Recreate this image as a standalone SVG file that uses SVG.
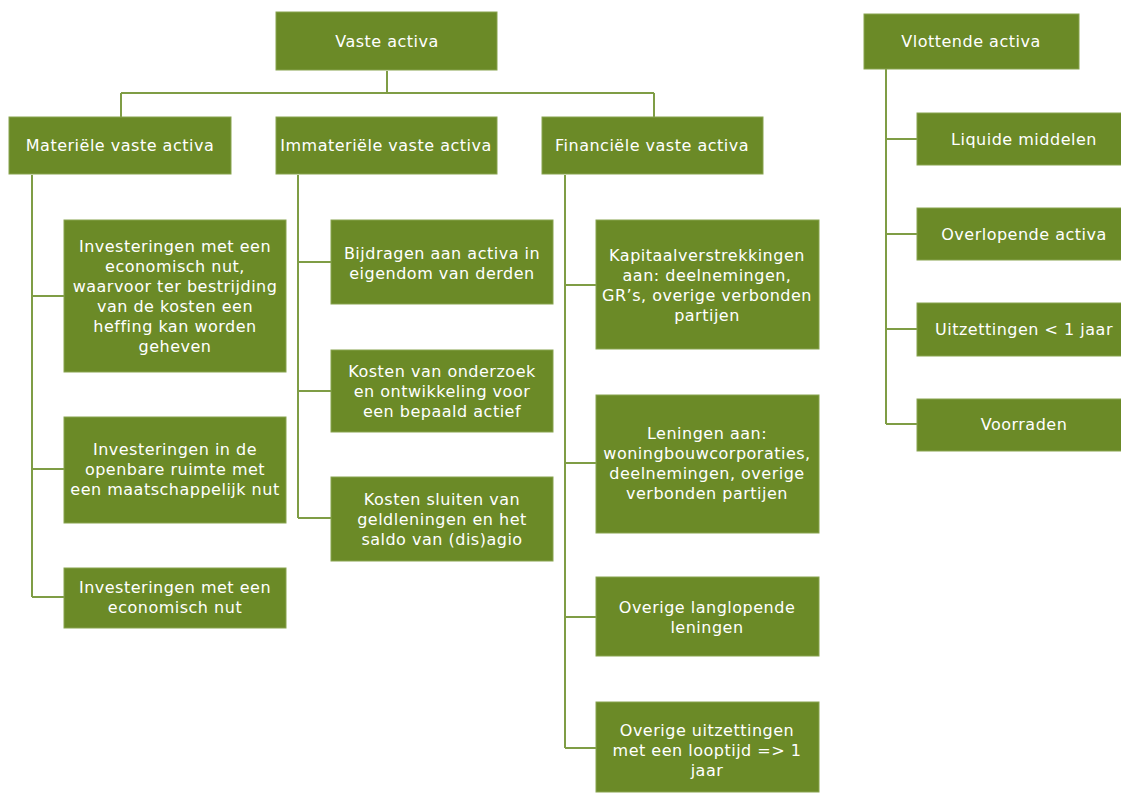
<svg xmlns="http://www.w3.org/2000/svg" width="1121" height="794" viewBox="0 0 1121 794">
<style>
.b{fill:#6b8a27;stroke:#88a34f;stroke-width:1}
.t{font-family:"DejaVu Sans","Open Sans",sans-serif;font-size:16px;letter-spacing:0.5px;fill:#ffffff;text-anchor:middle;dominant-baseline:central}
.c{fill:none;stroke:#7f9d45;stroke-width:2}
</style>
<rect width="1121" height="794" fill="#ffffff"/>
<g id="connectors">
<path class="c" d="M387 71V93M121 93H654M121 93V117M654 93V117"/>
<path class="c" d="M32 175V597M32 296H64M32 469H64M32 597H64"/>
<path class="c" d="M298 175V518M298 262H331M298 391H331M298 518H331"/>
<path class="c" d="M565 175V748M565 285H596M565 463H596M565 617H596M565 748H596"/>
<path class="c" d="M886 69V424M886 139H917M886 234H917M886 329H917M886 424H917"/>
</g>
<g id="vaste-activa"><rect class="b" x="276" y="12" width="221" height="58"/><text class="t" x="387" y="41">Vaste activa</text></g>
<g id="materiele"><rect class="b" x="9" y="117" width="222" height="57"/><text class="t" x="120" y="145">Materiële vaste activa</text></g>
<g id="immateriele"><rect class="b" x="276" y="117" width="221" height="57"/><text class="t" x="386" y="145">Immateriële vaste activa</text></g>
<g id="financiele"><rect class="b" x="542" y="117" width="221" height="57"/><text class="t" x="652" y="145">Financiële vaste activa</text></g>
<g id="vlottende-activa"><rect class="b" x="864" y="14" width="215" height="55"/><text class="t" x="971" y="41">Vlottende activa</text></g>

<g id="mat1"><rect class="b" x="64" y="220" width="222" height="152"/><text class="t" x="175" y="246">Investeringen met een</text><text class="t" x="175" y="266">economisch nut,</text><text class="t" x="175" y="286">waarvoor ter bestrijding</text><text class="t" x="175" y="306">van de kosten een</text><text class="t" x="175" y="326">heffing kan worden</text><text class="t" x="175" y="346">geheven</text></g>
<g id="mat2"><rect class="b" x="64" y="417" width="222" height="106"/><text class="t" x="175" y="449">Investeringen in de</text><text class="t" x="175" y="469">openbare ruimte met</text><text class="t" x="175" y="489">een maatschappelijk nut</text></g>
<g id="mat3"><rect class="b" x="64" y="568" width="222" height="60"/><text class="t" x="175" y="587">Investeringen met een</text><text class="t" x="175" y="607">economisch nut</text></g>

<g id="imm1"><rect class="b" x="331" y="220" width="222" height="84"/><text class="t" x="442" y="253">Bijdragen aan activa in</text><text class="t" x="442" y="273">eigendom van derden</text></g>
<g id="imm2"><rect class="b" x="331" y="350" width="222" height="82"/><text class="t" x="442" y="371">Kosten van onderzoek</text><text class="t" x="442" y="391">en ontwikkeling voor</text><text class="t" x="442" y="411">een bepaald actief</text></g>
<g id="imm3"><rect class="b" x="331" y="477" width="222" height="84"/><text class="t" x="442" y="499">Kosten sluiten van</text><text class="t" x="442" y="519">geldleningen en het</text><text class="t" x="442" y="539">saldo van (dis)agio</text></g>

<g id="fin1"><rect class="b" x="596" y="220" width="223" height="129"/><text class="t" x="707" y="255">Kapitaalverstrekkingen</text><text class="t" x="707" y="275">aan: deelnemingen,</text><text class="t" x="707" y="295">GR’s, overige verbonden</text><text class="t" x="707" y="315">partijen</text></g>
<g id="fin2"><rect class="b" x="596" y="395" width="223" height="138"/><text class="t" x="707" y="433">Leningen aan:</text><text class="t" x="707" y="453">woningbouwcorporaties,</text><text class="t" x="707" y="473">deelnemingen, overige</text><text class="t" x="707" y="493">verbonden partijen</text></g>
<g id="fin3"><rect class="b" x="596" y="577" width="223" height="79"/><text class="t" x="707" y="607">Overige langlopende</text><text class="t" x="707" y="627">leningen</text></g>
<g id="fin4"><rect class="b" x="596" y="702" width="223" height="90"/><text class="t" x="707" y="730">Overige uitzettingen</text><text class="t" x="707" y="750">met een looptijd => 1</text><text class="t" x="707" y="770">jaar</text></g>

<g id="vlot1"><rect class="b" x="917" y="113" width="215" height="52"/><text class="t" x="1024" y="139">Liquide middelen</text></g>
<g id="vlot2"><rect class="b" x="917" y="208" width="215" height="52"/><text class="t" x="1024" y="234">Overlopende activa</text></g>
<g id="vlot3"><rect class="b" x="917" y="303" width="215" height="53"/><text class="t" x="1024" y="329">Uitzettingen &lt; 1 jaar</text></g>
<g id="vlot4"><rect class="b" x="917" y="399" width="215" height="52"/><text class="t" x="1024" y="424">Voorraden</text></g>
</svg>
